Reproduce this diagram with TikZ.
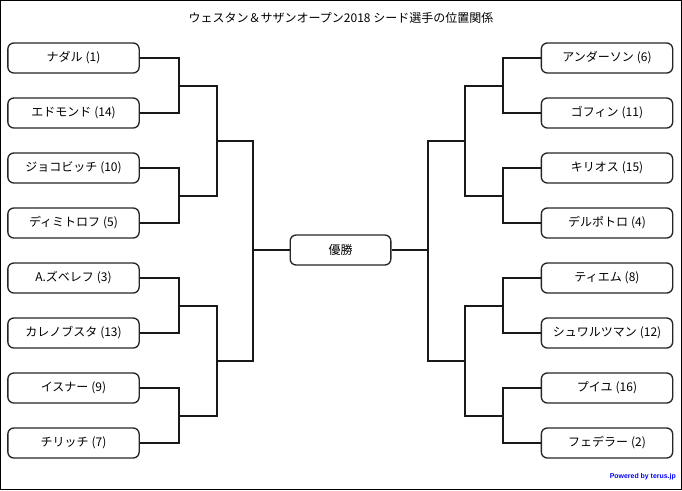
\documentclass[tikz,border=0pt]{standalone}
\usepackage{fontspec}
\setmainfont{Noto Sans CJK JP}
\newfontfamily\pwfont{Liberation Sans}
\newcommand{\sd}[1]{\hspace{0.25em}(#1)}
\begin{document}
\begin{tikzpicture}[x=0.75pt,y=-0.75pt,
  player/.style={draw=black!85,line width=1pt,rounded corners=4.5pt,fill=white,
    minimum width=98.5pt,minimum height=22.5pt,inner sep=0pt,font=\fontsize{9}{11}\selectfont},
  link/.style={draw=black!90,line width=1.15pt}]
\useasboundingbox (0,0) rectangle (682,490);
\draw[line width=0.75pt] (0.5,0.5) rectangle (681.5,489.5);
\node[font=\fontsize{9}{11}\selectfont] (title) at (341,18) {ウェスタン＆サザンオープン2018 シード選手の位置関係};
% left players
\node[player] (L1) at (73.5,58) {ナダル\sd{1}};
\node[player] (L2) at (73.5,113) {エドモンド\sd{14}};
\node[player] (L3) at (73.5,168) {ジョコビッチ\sd{10}};
\node[player] (L4) at (73.5,223) {ディミトロフ\sd{5}};
\node[player] (L5) at (73.5,278) {A.ズベレフ\sd{3}};
\node[player] (L6) at (73.5,333) {カレノブスタ\sd{13}};
\node[player] (L7) at (73.5,388) {イスナー\sd{9}};
\node[player] (L8) at (73.5,443) {チリッチ\sd{7}};
% right players
\node[player] (R1) at (607,58) {アンダーソン\sd{6}};
\node[player] (R2) at (607,113) {ゴフィン\sd{11}};
\node[player] (R3) at (607,168) {キリオス\sd{15}};
\node[player] (R4) at (607,223) {デルポトロ\sd{4}};
\node[player] (R5) at (607,278) {ティエム\sd{8}};
\node[player] (R6) at (607,333) {シュワルツマン\sd{12}};
\node[player] (R7) at (607,388) {プイユ\sd{16}};
\node[player] (R8) at (607,443) {フェデラー\sd{2}};
% winner
\node[player,minimum width=75.5pt] (W) at (340.5,250) {優勝};
% join points left
\coordinate (la1) at (179,86);
\coordinate (la2) at (179,196);
\coordinate (la3) at (179,306);
\coordinate (la4) at (179,416);
\coordinate (lb1) at (217,141);
\coordinate (lb2) at (217,361);
\coordinate (lc) at (253,250);
% join points right
\coordinate (ra1) at (503,86);
\coordinate (ra2) at (503,196);
\coordinate (ra3) at (503,306);
\coordinate (ra4) at (503,416);
\coordinate (rb1) at (465,141);
\coordinate (rb2) at (465,361);
\coordinate (rc) at (428,250);
% left connectors
\draw[link] (L1.east) -| (la1) |- (L2.east);
\draw[link] (L3.east) -| (la2) |- (L4.east);
\draw[link] (L5.east) -| (la3) |- (L6.east);
\draw[link] (L7.east) -| (la4) |- (L8.east);
\draw[link] (la1) -| (lb1) |- (la2);
\draw[link] (la3) -| (lb2) |- (la4);
\draw[link] (lb1) -| (lc) |- (lb2);
\draw[link] (lc) -- (W.west);
% right connectors
\draw[link] (R1.west) -| (ra1) |- (R2.west);
\draw[link] (R3.west) -| (ra2) |- (R4.west);
\draw[link] (R5.west) -| (ra3) |- (R6.west);
\draw[link] (R7.west) -| (ra4) |- (R8.west);
\draw[link] (ra1) -| (rb1) |- (ra2);
\draw[link] (ra3) -| (rb2) |- (ra4);
\draw[link] (rb1) -| (rc) |- (rb2);
\draw[link] (rc) -- (W.east);
% credit
\node[anchor=east,text=blue,inner sep=0pt,font=\pwfont\bfseries\fontsize{5.2}{6}\selectfont] (pw) at (676,476.5) {Powered by terus.jp};
\end{tikzpicture}
\end{document}
